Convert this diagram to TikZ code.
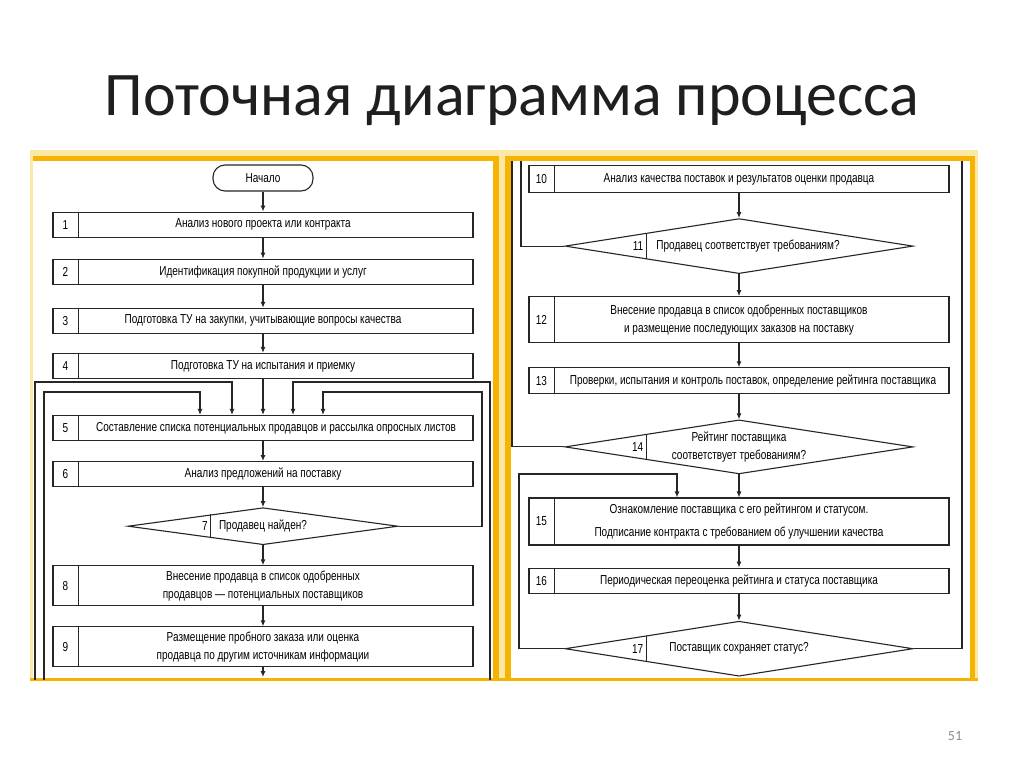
\documentclass[tikz,border=0pt]{standalone}
\usepackage{fontspec}
\setmainfont{Carlito}
\newfontfamily\flowfont[FakeStretch=0.77]{Liberation Sans}
\usetikzlibrary{positioning, shapes.geometric, arrows.meta, calc}

\definecolor{gold}{HTML}{F6B400}
\definecolor{paleGold}{HTML}{FBE8A6}
\definecolor{ink}{HTML}{262626}

\tikzset{
  stepbox/.style={draw=ink, line width=1.1pt, minimum width=420pt,
    minimum height=25pt, inner sep=2pt, align=center,
    font=\flowfont\fontsize{13}{18}\selectfont},
  ask/.style={diamond, draw=ink, line width=1.1pt, inner sep=0pt,
    aspect=6, align=center, font=\flowfont\fontsize{13}{18}\selectfont},
  term/.style={draw=ink, line width=1.1pt, rounded corners=12pt,
    minimum width=100pt, minimum height=26pt,
    font=\flowfont\fontsize{13}{18}\selectfont},
  num/.style={inner sep=3pt, font=\flowfont\fontsize{13}{16}\selectfont},
  link/.style={draw=ink, line width=1.1pt},
  arr/.style={link, -{Latex[length=6pt,width=5pt]}}
}

\begin{document}
\begin{tikzpicture}[x=1pt, y=-1pt]
\useasboundingbox (0,0) rectangle (1024,767);
\fill[white] (0,0) rectangle (1024,767);

% frame
\fill[paleGold] (30,150) rectangle (978,156);
\fill[gold] (30,156) rectangle (978,161);
\fill[paleGold] (30,156) rectangle (33,681);
\fill[gold] (493,156) rectangle (499,681);
\fill[paleGold] (499,156) rectangle (505,681);
\fill[gold] (505,156) rectangle (511,681);
\fill[gold] (970,156) rectangle (975,681);
\fill[paleGold] (975,156) rectangle (978,681);
\fill[gold] (30,678) rectangle (978,681);

\node[text=black!88] (title) at (512,101)
    {\fontsize{62}{66}\selectfont Поточная диаграмма процесса};
\node[text=black!45] (page) at (955,736) {\fontsize{14}{16}\selectfont 51};

% left column
\node[term] (start) at (263,178) {Начало};
\node[stepbox, below=20pt of start] (b1) {Анализ нового проекта или контракта};
\node[stepbox, below=21pt of b1] (b2) {Идентификация покупной продукции и услуг};
\node[stepbox, below=23pt of b2] (b3)
    {Подготовка ТУ на закупки, учитывающие вопросы качества};
\node[stepbox, below=19pt of b3] (b4) {Подготовка ТУ на испытания и приемку};
\node[stepbox, below=36pt of b4] (b5)
    {\hspace*{26pt}Составление списка потенциальных продавцов и рассылка опросных листов};
\node[stepbox, below=20pt of b5] (b6) {Анализ предложений на поставку};
\node[ask, minimum width=270pt, minimum height=37pt, below=20pt of b6] (d7)
    {Продавец найден?};
\node[stepbox, minimum height=40pt, below=20pt of d7] (b8)
    {Внесение продавца в список одобренных\\продавцов — потенциальных поставщиков};
\node[stepbox, minimum height=40pt, below=20pt of b8] (b9)
    {Размещение пробного заказа или оценка\\продавца по другим источникам информации};

% right column
\node[stepbox, minimum height=27pt] (b10) at (739,179)
    {Анализ качества поставок и результатов оценки продавца};
\node[ask, minimum width=348pt, minimum height=55pt, below=25pt of b10] (d11)
    {\hspace*{18pt}Продавец соответствует требованиям?};
\node[stepbox, minimum height=46pt, below=22pt of d11] (b12)
    {Внесение продавца в список одобренных поставщиков\\и размещение последующих заказов на поставку};
\node[stepbox, minimum height=26pt, below=24pt of b12] (b13)
    {\hspace*{28pt}Проверки, испытания и контроль поставок, определение рейтинга поставщика};
\node[ask, minimum width=348pt, minimum height=54pt, below=25pt of b13] (d14)
    {Рейтинг поставщика\\соответствует требованиям?};
\node[stepbox, minimum height=47pt, below=23pt of d14] (b15)
    {Ознакомление поставщика с его рейтингом и статусом.\\[5pt]Подписание контракта с требованием об улучшении качества};
\node[stepbox, below=22pt of b15] (b16)
    {Периодическая переоценка рейтинга и статуса поставщика};
\node[ask, minimum width=348pt, minimum height=55pt, below=27pt of b16] (d17)
    {Поставщик сохраняет статус?};

% number cells
\foreach \b/\n in {b1/1,b2/2,b3/3,b4/4,b5/5,b6/6,b8/8,b9/9,
                   b10/10,b12/12,b13/13,b15/15,b16/16} {
  \draw[link] ([xshift=26pt]\b.north west) -- ([xshift=26pt]\b.south west);
  \node[num] (n\n) at ([xshift=13pt]\b.west) {\n};
}
\foreach \d/\n/\t in {d7/7/0.615,d11/11/0.47,d14/14/0.47,d17/17/0.47} {
  \draw[link] ($(\d.west)!\t!(\d.north)$) -- ($(\d.west)!\t!(\d.south)$);
  \node[num, anchor=east] (n\n) at ($(\d.west)!\t!(\d.center)$) {\n};
}

% main flow
\foreach \a/\b in {start/b1,b1/b2,b2/b3,b3/b4,b4/b5,b5/b6,b6/d7,d7/b8,b8/b9,
                   b10/d11,d11/b12,b12/b13,b13/d14,d14/b15,b15/b16,b16/d17}
  \draw[arr] (\a) -- (\b);
\coordinate (end9) at (263,677);
\draw[arr] (b9) -- (end9);

% loops, left page
\coordinate (ll) at (35,680);
\coordinate (li) at (44,680);
\coordinate (rl) at (490,680);
\coordinate (k1) at (232,382);
\coordinate (k2) at (200,392);
\coordinate (k4) at (293,382);
\coordinate (k5) at (323,392);
\coordinate (k6) at (482,392);
\draw[arr] (ll) |- (k1) -- (k1 |- b5.north);
\draw[arr] (li) |- (k2) -- (k2 |- b5.north);
\draw[arr] (rl) |- (k4) -- (k4 |- b5.north);
\draw[arr] (d7.east) -| (k6) -- (k5) -- (k5 |- b5.north);

% loops, right page
\coordinate (t11) at (521,161);
\coordinate (t14) at (512,161);
\coordinate (t17) at (962,161);
\coordinate (k7) at (519,474);
\coordinate (k8) at (677,474);
\draw[link] (d11.west) -| (t11);
\draw[link] (d14.west) -| (t14);
\draw[link] (d17.east) -| (t17);
\draw[arr] (d17.west) -| (k7) -- (k8) -- (k8 |- b15.north);
\end{tikzpicture}
\end{document}
